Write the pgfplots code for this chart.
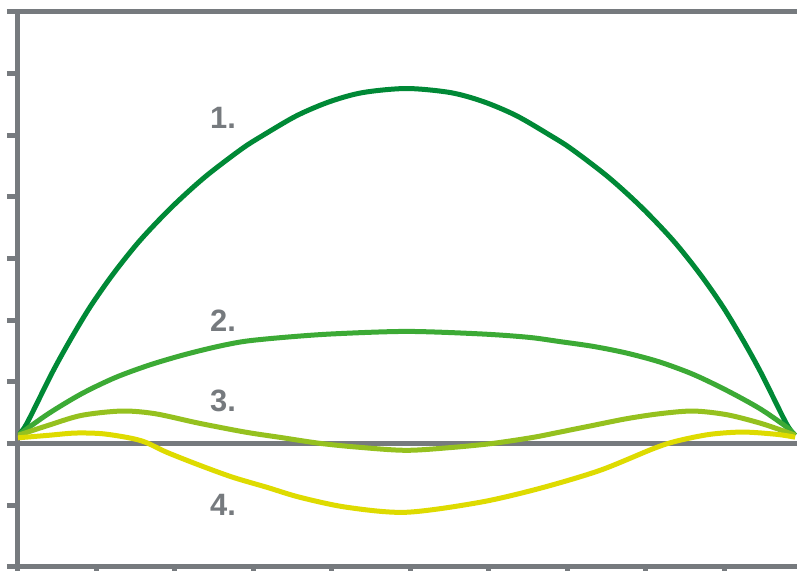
\documentclass[border=0pt]{standalone}
\usepackage{pgfplots}
\pgfplotsset{compat=1.18}
\usepackage{fontspec}
\setmainfont{Liberation Sans}

\definecolor{axgray}{RGB}{118,122,126}
\definecolor{cone}{RGB}{0,137,54}
\definecolor{ctwo}{RGB}{60,170,53}
\definecolor{cthree}{RGB}{149,193,31}
\definecolor{cfour}{RGB}{222,219,0}

\begin{document}
\begin{tikzpicture}
\begin{axis}[
    scale only axis,
    width=779bp, height=555bp,
    xmin=0, xmax=9.924,
    ymin=-2, ymax=7,
    axis x line=box, axis y line=left,
    every outer x axis line/.append style={-},
    every outer y axis line/.append style={-},
    every inner x axis line/.append style={-},
    every inner y axis line/.append style={-},
    axis line style={draw=axgray, line width=5bp, -},
    xtick={0,1,...,9}, ytick={-2,-1,...,7},
    xticklabels={}, yticklabels={},
    xtick pos=left, ytick pos=left,
    tick align=outside,
    major tick length=11bp,
    tick style={draw=axgray, line width=5bp},
    extra y ticks={0},
    extra y tick labels={},
    extra y tick style={ymajorgrids=true,
        major grid style={draw=axgray, line width=5bp}},
  ]

  % 1.
  \addplot[cone, line width=5bp, smooth, tension=0.5] coordinates {
    (0.000,0.130) (0.111,0.319) (0.429,1.130) (0.662,1.669) (0.917,2.209)
    (1.214,2.750) (1.554,3.290) (1.958,3.830) (2.382,4.320) (2.850,4.775)
    (3.121,4.995) (3.554,5.316) (3.975,5.543) (4.395,5.689) (4.950,5.754)
    (5.505,5.689) (5.925,5.543) (6.346,5.316) (6.779,4.995) (7.050,4.775)
    (7.518,4.320) (7.942,3.830) (8.346,3.290) (8.686,2.750) (8.983,2.209)
    (9.238,1.669) (9.471,1.130) (9.789,0.319) (9.900,0.130)
  };

  % 2.
  \addplot[ctwo, line width=5bp, smooth, tension=0.5] coordinates {
    (0.000,0.130) (0.386,0.480) (0.811,0.805) (1.236,1.065) (1.660,1.264)
    (2.085,1.426) (2.510,1.561) (2.892,1.655) (3.400,1.720) (4.013,1.775)
    (4.950,1.815) (5.887,1.775) (6.500,1.720) (6.904,1.650) (7.329,1.572)
    (7.754,1.464) (8.178,1.318) (8.603,1.118) (9.028,0.859) (9.452,0.562)
    (9.792,0.264) (9.900,0.130)
  };

  % 3.
  \addplot[cthree, line width=5bp, smooth, tension=0.5] coordinates {
    (0.000,0.130) (0.386,0.292) (0.811,0.454) (1.321,0.524) (1.745,0.481)
    (2.297,0.329) (2.892,0.183) (3.338,0.097) (3.847,0.000) (4.357,-0.065)
    (4.950,-0.113) (5.543,-0.065) (6.053,0.000) (6.562,0.097) (6.904,0.183)
    (7.329,0.292) (7.754,0.400) (8.178,0.481) (8.603,0.524) (9.028,0.465)
    (9.452,0.329) (9.792,0.183) (9.900,0.130)
  };

  % 4.
  \addplot[cfour, line width=5bp, smooth, tension=0.5] coordinates {
    (0.000,0.090) (0.386,0.130) (0.726,0.167) (1.066,0.157) (1.405,0.092)
    (1.620,0.020) (1.898,-0.146) (2.318,-0.357) (2.739,-0.551) (3.172,-0.713)
    (3.592,-0.875) (4.191,-1.037) (4.943,-1.118) (5.885,-0.956) (6.650,-0.729)
    (7.414,-0.438) (8.093,-0.086) (8.391,0.037) (8.815,0.146) (9.239,0.183)
    (9.665,0.146) (9.900,0.100)
  };

  \begin{scope}[every node/.style={anchor=base west, inner sep=0pt, text=axgray,
      font=\bfseries\fontsize{31}{31}\selectfont}]
    \node at (axis cs:2.446,5.105) {1.};
    \node at (axis cs:2.446,1.815) {2.};
    \node at (axis cs:2.446,0.519) {3.};
    \node at (axis cs:2.446,-1.167) {4.};
  \end{scope}
\end{axis}
\pgfresetboundingbox
\path ([shift={(-18bp,-4.3bp)}]current axis.south west)
  rectangle ([shift={(0bp,11.7bp)}]current axis.north east);
\end{tikzpicture}
\end{document}
